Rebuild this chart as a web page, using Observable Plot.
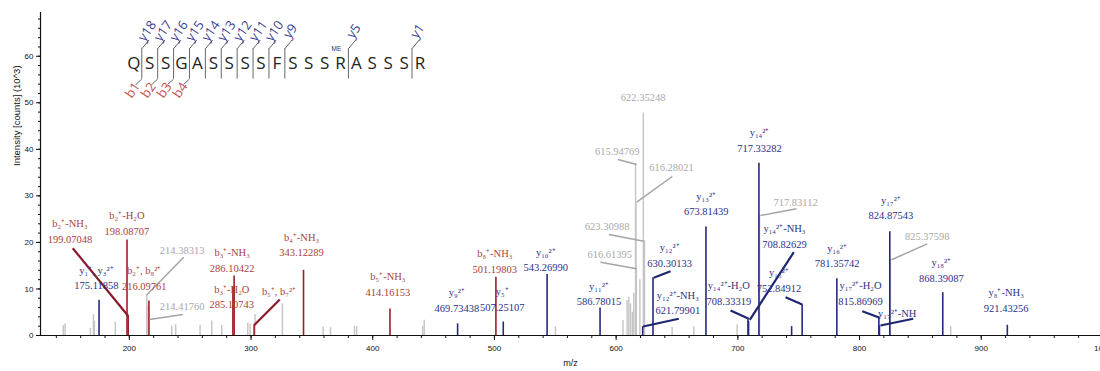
<!DOCTYPE html>
<html><head><meta charset="utf-8">
<script src="https://cdn.jsdelivr.net/npm/d3@7"></script>
<script src="https://cdn.jsdelivr.net/npm/@observablehq/plot@0.6"></script>
<style>body{margin:0;background:#fff;} #chart svg{display:block;}</style>
</head><body><div id="chart"></div>
<script>
// ---------- DATA (m/z, intensity in 10^3 counts) ----------
// b-ion peaks (red)
const bMz  = [198.08707, 199.07048, 216.09761, 285.10743, 286.10422, 302.5, 343.12289, 414.16153, 501.19803];
const bInt = [20.5, 4.2, 7.4, 10.5, 12.8, 2.2, 14.0, 5.7, 12.5];
// y-ion peaks (blue)
const yMz  = [175.11858, 469.73438, 507.25107, 543.26990, 586.78015, 621.79901, 630.30133, 673.81439, 708.33319, 708.82629, 717.33282, 744.2, 752.84912, 781.35742, 815.86969, 816.36, 824.87543, 868.39087, 921.43256];
const yInt = [7.6, 2.5, 2.9, 13.1, 5.9, 1.9, 12.4, 23.3, 3.4, 3.0, 37.0, 1.9, 6.6, 12.2, 3.8, 2.1, 22.3, 9.2, 2.2];
// unassigned peaks (gray)
const oMz  = [145.7, 147.2, 168.0, 170.5, 171.3, 188.5, 214.38313, 214.4176, 234.8, 238.1, 258.1, 267.7, 275.9, 297.3, 299.2, 303.3, 325.8, 359.3, 365.3, 385.0, 386.8, 441.0, 442.3, 550.1, 605.6, 609.0, 610.4, 611.8, 613.3, 614.5, 615.94769, 616.28021, 616.61395, 619.5, 622.35248, 623.30988, 646.0, 663.8, 699.4, 717.83112, 825.37598, 874.9];
const oInt = [2.1, 2.5, 1.5, 4.5, 3.0, 2.9, 8.5, 6.4, 2.0, 2.3, 2.2, 3.1, 2.2, 2.6, 2.4, 4.5, 6.8, 1.8, 1.7, 1.9, 1.9, 2.0, 3.3, 1.8, 3.2, 7.5, 8.2, 6.8, 5.0, 9.0, 36.9, 28.6, 14.3, 12.0, 47.8, 20.4, 1.7, 1.9, 2.3, 25.8, 16.3, 1.9];

// peak annotations: text, anchor (m/z, intensity), kind
const annText = [
  "b₂⁺-NH₃\n199.07048", "b₂⁺-H₂O\n198.08707", "b₂⁺, b₈²⁺\n216.09761", "b₃⁺-NH₃\n286.10422", "b₃⁺-H₂O\n285.10743",
  "b₅⁺, b₇²⁺", "b₄⁺-NH₃\n343.12289", "b₅⁺-NH₃\n414.16153", "b₈⁺-NH₃\n501.19803",
  "y₁⁺, y₃²⁺\n175.11858", "y₉²⁺\n469.73438", "y₅⁺\n507.25107", "y₁₀²⁺\n543.26990", "y₁₁²⁺\n586.78015",
  "y₁₂²⁺\n630.30133", "y₁₂²⁺-NH₃\n621.79901", "y₁₃²⁺\n673.81439", "y₁₄²⁺\n717.33282", "y₁₄²⁺-NH₃\n708.82629",
  "y₁₄²⁺-H₂O\n708.33319", "y₁₅²⁺\n752.84912", "y₁₆²⁺\n781.35742", "y₁₇²⁺-H₂O\n815.86969", "y₁₇²⁺-NH",
  "y₁₇²⁺\n824.87543", "y₁₈²⁺\n868.39087", "y₈⁺-NH₃\n921.43256",
  "214.38313", "214.41760", "622.35248", "615.94769", "616.28021", "623.30988", "616.61395", "717.83112", "825.37598"
];
const annMz = [151.2, 198.0, 212.2, 284.5, 284.2, 323.0, 341.5, 412.4, 500.3,
  173.0, 469.1, 506.4, 542.2, 585.9, 644.0, 650.7, 674.0, 717.8, 738.3, 692.6, 733.8, 781.6, 800.8, 831.0, 825.8, 867.2, 920.5,
  243.4, 243.4, 622.2, 600.9, 645.5, 592.6, 594.8, 747.4, 855.6];
const annInt = [22.67, 24.34, 12.61, 16.48, 8.59, 9.67, 19.81, 11.24, 16.27,
  12.68, 7.8, 8.01, 16.54, 9.24, 17.55, 7.31, 28.58, 42.18, 21.64, 9.3, 12.14, 17.36, 9.3, 5.0, 27.68, 14.33, 7.8,
  18.63, 6.45, 51.42, 39.9, 36.31, 23.64, 17.68, 29.0, 21.49];
const annKind = [..."bbbbbbbbb", ..."yyyyyyyyyyyyyyyyyy", ..."ooooooooo"];

// leader lines: [m/z1, int1, m/z2, int2]
const leadB = [[153.5, 18.76, 199.07, 4.2], [323.6, 7.74, 302.5, 2.2]];
const leadY = [[644.7, 13.82, 630.9, 12.4], [651.5, 3.59, 622.2, 1.93], [746.0, 17.9, 709.8, 3.37], [694.0, 5.37, 709.0, 3.59],
  [739.2, 8.23, 752.9, 6.66], [802.2, 5.22, 816.6, 3.8], [844.1, 3.59, 817.2, 2.15]];
const leadO = [[244.7, 16.82, 213.9, 8.59], [243.9, 4.51, 216.6, 3.44], [601.4, 37.82, 616.9, 36.74], [646.1, 34.16, 616.9, 28.64],
  [594.0, 21.7, 622.7, 20.26], [587.1, 15.75, 616.9, 14.33], [748.2, 27.22, 718.6, 25.78], [855.6, 19.7, 826.3, 16.27]];

// peptide fragment map
const seqLetters = "QSSGASSSSFSSSRASSSR".split("");
const yCleave = [1, 2, 3, 4, 5, 6, 7, 8, 9, 10, 14, 18];
const bCleave = [1, 2, 3, 4];

// axis ticks
const xMajor = [200, 300, 400, 500, 600, 700, 800, 900, 1000];
const xMinor = d3.range(140, 1001, 20);
const yMajor = [0, 10, 20, 30, 40, 50, 60];
const yMinor = d3.range(0, 69, 2);

// ---------- LAYOUT ----------
const RED_T = "#a8423c", RED_L = "#9c1f24", RED_LEAD = "#8a1a2c";
const BLUE_T = "#2c3186", BLUE_L = "#262a7e", BLUE_LEAD = "#1e2672";
const GRAY_T = "#a9a9a9", GRAY_L = "#c4c4c4", GRAY_LEAD = "#a5a5a5";
const seqX0 = 203.7, seqDX = 13.06, seqY = 58.5;
const sepX = k => seqX0 + (k - 0.5) * seqDX;

const mk = (mz, it) => mz.map((m, i) => ({mz: m, h: it[i]}));
const gray = mk(oMz, oInt), red = mk(bMz, bInt), blue = mk(yMz, yInt);
const ann = annText.map((t, i) => ({t, x: annMz[i], y: annInt[i], k: annKind[i]}));
const colT = {b: RED_T, y: BLUE_T, o: GRAY_T};
const L = a => a.map(d => ({x1: d[0], y1: d[1], x2: d[2], y2: d[3]}));

const serif = "'Liberation Serif', 'Times New Roman', serif";
const chart = Plot.plot({
  width: 1100, height: 371,
  marginLeft: 40, marginRight: 0, marginTop: 12, marginBottom: 36,
  x: {domain: [127, 998]},
  y: {domain: [0, 69.4]},
  style: {fontFamily: "'Liberation Sans', Arial, sans-serif", fontSize: "8px", background: "#fff", color: "#111"},
  marks: [
    Plot.ruleX(gray, {x: "mz", y1: 0, y2: "h", stroke: GRAY_L, strokeWidth: 1.4}),
    Plot.ruleX(red, {x: "mz", y1: 0, y2: "h", stroke: RED_L, strokeWidth: 1.6}),
    Plot.ruleX(blue, {x: "mz", y1: 0, y2: "h", stroke: BLUE_L, strokeWidth: 1.6}),
    Plot.link(L(leadO), {x1: "x1", y1: "y1", x2: "x2", y2: "y2", stroke: GRAY_LEAD, strokeWidth: 1.5}),
    Plot.link(L(leadB), {x1: "x1", y1: "y1", x2: "x2", y2: "y2", stroke: RED_LEAD, strokeWidth: 2.2}),
    Plot.link(L(leadY), {x1: "x1", y1: "y1", x2: "x2", y2: "y2", stroke: BLUE_LEAD, strokeWidth: 2.2}),
    Plot.text(ann, {x: "x", y: "y", text: "t", fill: d => colT[d.k], fontFamily: serif, fontSize: 10.5,
      lineHeight: 1.48, lineAnchor: "middle", textAnchor: "middle", letterSpacing: "-0.7px"}),
    // peptide fragment map
    Plot.text(seqLetters, {x: (d, i) => seqX0 + i * seqDX, y: seqY, text: d => d, fontFamily: "'Open Sans', sans-serif",
      fontSize: 17, fill: "#222", lineAnchor: "middle"}),
    Plot.text(["ME"], {x: seqX0 + 12.75 * seqDX, y: 61.6, text: d => d, fontSize: 6.5, fill: "#333", lineAnchor: "middle"}),
    Plot.ruleX(yCleave, {x: sepX, y1: 55.1, y2: 61.6, stroke: "#666", strokeWidth: 1}),
    Plot.link(yCleave, {x1: sepX, y1: 61.6, x2: k => sepX(k) + 6, y2: 63.5, stroke: "#666", strokeWidth: 1}),
    Plot.text(yCleave, {x: k => sepX(k) + 4.5, y: 65.4, text: k => "y" + (19 - k), rotate: -55, fill: "#3b3f93",
      fontFamily: "'Open Sans', sans-serif", fontSize: 13, lineAnchor: "middle"}),
    Plot.link(bCleave, {x1: sepX, y1: 55.1, x2: k => sepX(k) - 5, y2: 53.9, stroke: "#666", strokeWidth: 1}),
    Plot.text(bCleave, {x: k => sepX(k) - 7.5, y: 52.7, text: k => "b" + k, rotate: -55, fill: "#c4504b",
      fontFamily: "'Open Sans', sans-serif", fontSize: 13, lineAnchor: "middle"}),
    // axes
    Plot.axisX({ticks: xMinor, tickSize: 3, tickFormat: () => "", label: null}),
    Plot.axisX({ticks: xMajor, tickSize: 5, tickPadding: 5, tickFormat: d => String(d), label: null, fontSize: 8}),
    Plot.axisY({ticks: yMinor, tickSize: 2, tickFormat: () => "", label: null}),
    Plot.axisY({ticks: yMajor, tickSize: 4, tickPadding: 3, tickFormat: d => String(d), label: null, fontSize: 8}),
    Plot.ruleY([0], {stroke: "#111", strokeWidth: 1.2}),
    Plot.ruleX([127], {y1: 0, y2: 69.4, stroke: "#111", strokeWidth: 1.2}),
    Plot.text(["m/z"], {frameAnchor: "bottom", dy: 28, text: d => d, fontSize: 9, lineAnchor: "middle"}),
    Plot.text(["Intensity [counts] (10^3)"], {frameAnchor: "left", dx: -24, dy: -8, rotate: -90, text: d => d, fontSize: 9.5, lineAnchor: "middle"})
  ]
});
document.getElementById("chart").appendChild(chart);
</script>
</body></html>
